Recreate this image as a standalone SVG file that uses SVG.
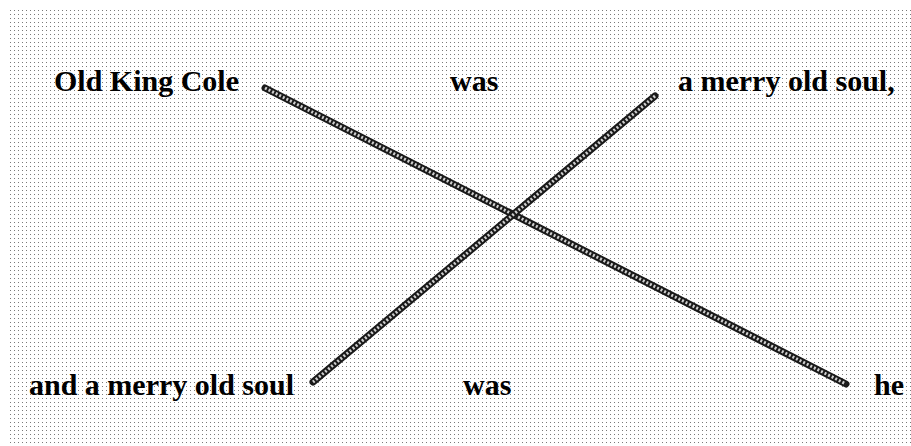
<svg xmlns="http://www.w3.org/2000/svg" width="911" height="446" viewBox="0 0 911 446">
<defs>
<pattern id="dots" x="10" y="10" width="4" height="4" patternUnits="userSpaceOnUse">
<rect x="0" y="0" width="1" height="1" fill="#7a7a7a"/>
</pattern>
</defs>
<style>
.t{font-family:"Liberation Serif","Times New Roman",serif;font-weight:bold;font-size:30px;fill:#000}
.ln{stroke:#1a1a1a;stroke-width:7;stroke-linecap:round;fill:none}
.tx{stroke:#cfcfcf;stroke-width:3;stroke-dasharray:2 2;fill:none}
</style>
<rect width="911" height="446" fill="#fff"/>
<rect x="10" y="10" width="901" height="436" fill="url(#dots)"/>
<g id="connectors">
<line class="ln" x1="265" y1="88" x2="846" y2="384"/>
<line class="tx" x1="265" y1="88" x2="846" y2="384"/>
<line class="ln" x1="655" y1="96" x2="313" y2="382"/>
<line class="tx" x1="655" y1="96" x2="313" y2="382"/>
</g>
<g id="old-king-cole"><text class="t" x="54" y="91">Old King Cole</text></g>
<g id="was-top"><text class="t" x="450" y="91">was</text></g>
<g id="merry-top"><text class="t" x="678" y="91">a merry old soul,</text></g>
<g id="merry-bottom"><text class="t" x="29" y="395">and a merry old soul</text></g>
<g id="was-bottom"><text class="t" x="463" y="395">was</text></g>
<g id="he"><text class="t" x="874" y="395">he</text></g>
</svg>
